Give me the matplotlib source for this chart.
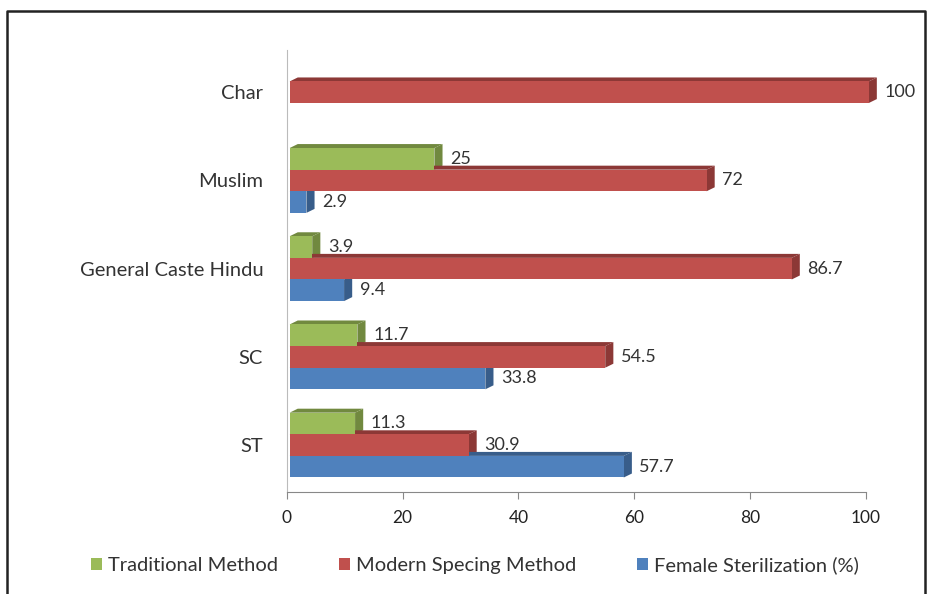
import numpy as np
import matplotlib.pyplot as plt
from matplotlib.lines import Line2D

plt.rcParams['font.family'] = ['Lato', 'DejaVu Sans']

categories = ["ST", "SC", "General Caste Hindu", "Muslim", "Char"]
series_names = ["Traditional Method", "Modern Specing Method", "Female Sterilization (%)"]
traditional = [11.3, 11.7, 3.9, 25, np.nan]
modern = [30.9, 54.5, 86.7, 72, 100]
female = [57.7, 33.8, 9.4, 2.9, np.nan]
x_ticks = [0, 20, 40, 60, 80, 100]

colors = ["#9BBB59", "#C0504D", "#4F81BD"]
dark = ["#71893F", "#8C3836", "#385D8A"]

fig = plt.figure(figsize=(9.28, 5.94), dpi=100)
ax = fig.add_axes([0.309, 0.172, 0.624, 0.744])

y = np.arange(len(categories))
h = 0.245
dx, dy = 1.4, 0.045  # fake 3D depth

for i, (vals, off) in enumerate([(traditional, h), (modern, 0), (female, -h)]):
    for yi, v in zip(y, vals):
        if np.isnan(v):
            continue
        yc = yi + off
        top = yc + h / 2
        bot = yc - h / 2
        ax.fill([0.5, v + 0.5, v + 0.5 + dx, 0.5 + dx], [top, top, top + dy, top + dy],
                color=dark[i], lw=0, zorder=2, clip_on=False)
        ax.fill([v + 0.5, v + 0.5, v + 0.5 + dx, v + 0.5 + dx], [bot, top, top + dy, bot + dy],
                color=dark[i], lw=0, zorder=2, clip_on=False)
        ax.barh(yc, v, left=0.5, height=h, color=colors[i], edgecolor="none", zorder=3,
                clip_on=False)
        ax.text(v + 0.5 + dx + 1.3, yc, f"{v:g}", va="center", ha="left", fontsize=13,
                color="#333333", zorder=4)

for i, name in enumerate(series_names):
    ax.barh([np.nan], [np.nan], color=colors[i], label=name)

ax.set_xlim(0, 100)
ax.set_ylim(-0.53, 4.48)
ax.set_xticks(x_ticks)
ax.set_xticklabels([str(t) for t in x_ticks], fontsize=12.5)
ax.set_yticks(y)
ax.set_yticklabels(categories, fontsize=14.5)
ax.tick_params(axis="x", length=5, color="#888888", pad=8, labelcolor="#222222")
ax.tick_params(axis="y", length=0, pad=17, labelcolor="#333333")
for s in ["top", "right"]:
    ax.spines[s].set_visible(False)
ax.spines["left"].set_color("#bbbbbb")
ax.spines["bottom"].set_color("#888888")

ax.legend(loc="upper center", bbox_to_anchor=(0.325, -0.105), ncol=3, frameon=False,
          fontsize=14.5, handlelength=0.55, handleheight=0.55, handletextpad=0.3,
          columnspacing=3.0, labelcolor="#333333")

# outer frame (left, top, right edges visible in the scan)
fig.add_artist(Line2D([0.008, 0.008, 0.997, 0.997], [0.0, 0.982, 0.982, 0.0],
                      transform=fig.transFigure, color="#222222", lw=1.8))

fig.savefig("out.png", dpi=100)
